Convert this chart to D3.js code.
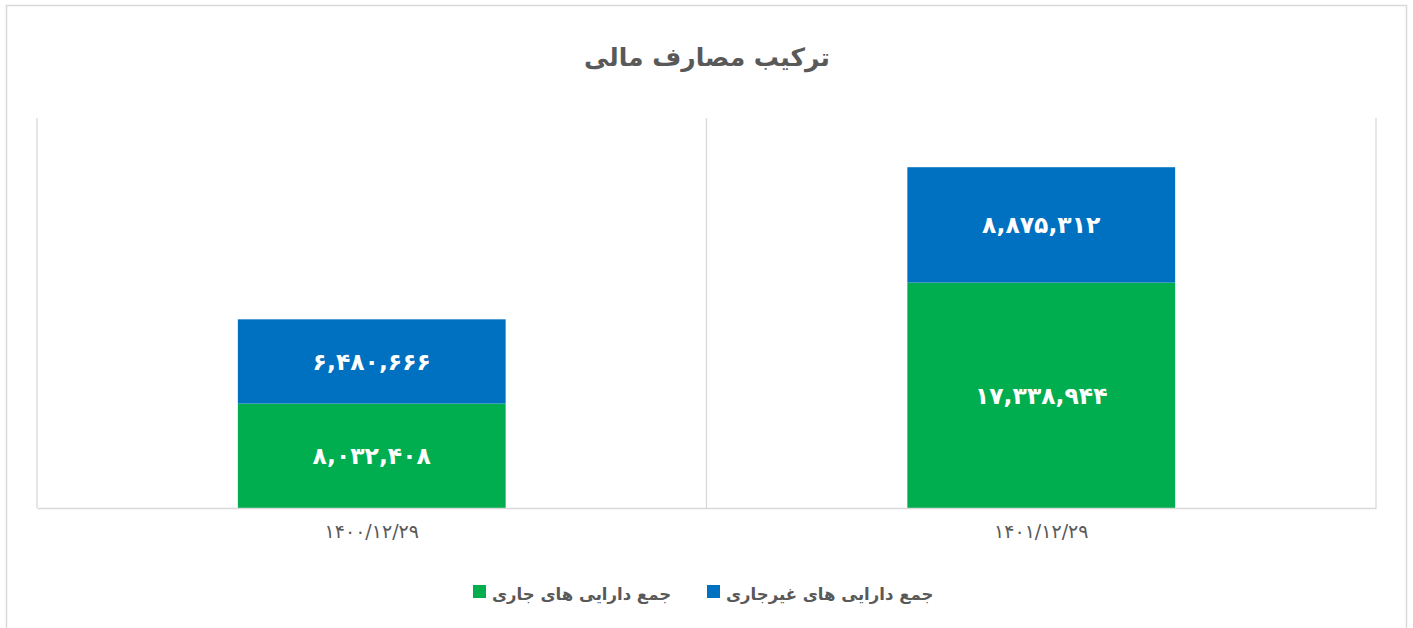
<!DOCTYPE html>
<html><head><meta charset="utf-8">
<script src="https://cdn.jsdelivr.net/npm/d3@7"></script>
<style>
html,body{margin:0;padding:0;background:#fff;}
svg{display:block;}
text{font-family:"DejaVu Sans",sans-serif;}
</style></head>
<body>
<svg id="c" width="1413" height="628"></svg>
<script>
const title = "ترکیب مصارف مالی";
const categories = ["۱۴۰۰/۱۲/۲۹", "۱۴۰۱/۱۲/۲۹"];
const seriesNames = ["جمع دارایی های جاری", "جمع دارایی های غیرجاری"];
const currentAssets = [8032408, 17338944];
const nonCurrentAssets = [6480666, 8875312];
const yMax = 30000000;
const colors = ["#00AD4F", "#0070C0"];

const svg = d3.select("#c");
const plot = {left: 37, right: 1376, top: 118, bottom: 508};

// outer border
svg.append("rect").attr("x", 6.5).attr("y", 5.5).attr("width", 1400).attr("height", 640)
  .attr("fill", "#fff").attr("stroke", "#d9d9d9").attr("stroke-width", 1.5);

const x = d3.scaleBand().domain(categories).range([plot.left, plot.right]).padding(0);
const y = d3.scaleLinear().domain([0, yMax]).range([plot.bottom, plot.top]);

const fa = s => s.replace(/[0-9]/g, d => "۰۱۲۳۴۵۶۷۸۹"[+d]);
const fmt = v => fa(d3.format(",")(v));

// vertical category gridlines
const bounds = categories.map(c => x(c)).concat([x(categories[categories.length-1]) + x.bandwidth()]);
svg.append("g").selectAll("line").data(bounds).join("line")
  .attr("x1", d => d).attr("x2", d => d)
  .attr("y1", plot.top).attr("y2", plot.bottom)
  .attr("stroke", "#d9d9d9").attr("stroke-width", 1.3);

// stack
const rows = categories.map((c, i) => ({cat: c, s0: currentAssets[i], s1: nonCurrentAssets[i]}));
const stack = d3.stack().keys(["s0", "s1"])(rows);
const barW = x.bandwidth() * 0.4;
const barOff = (x.bandwidth() - barW) / 2;

const g = svg.append("g");
stack.forEach((layer, li) => {
  g.append("g").selectAll("rect").data(layer).join("rect")
    .attr("x", d => x(d.data.cat) + barOff)
    .attr("width", barW)
    .attr("y", d => y(d[1]))
    .attr("height", d => y(d[0]) - y(d[1]))
    .attr("fill", colors[li]);
  g.append("g").selectAll("text").data(layer).join("text")
    .attr("x", d => x(d.data.cat) + x.bandwidth()/2)
    .attr("y", d => (y(d[0]) + y(d[1]))/2)
    .attr("dy", "0.35em")
    .attr("text-anchor", "middle")
    .attr("fill", "#fff").attr("font-weight", "bold").attr("font-size", 23.5)
    .text(d => fmt(d[1] - d[0]));
});

// baseline axis
const xAxis = d3.axisBottom(x).tickSize(0).tickPadding(17);
const ax = svg.append("g").attr("transform", `translate(0,${plot.bottom})`).call(xAxis);
ax.select(".domain").attr("stroke", "#d9d9d9").attr("stroke-width", 1.5);
ax.selectAll("text").attr("font-size", 19).attr("fill", "#595959")
  .attr("font-family", "DejaVu Sans, sans-serif");

// title
svg.append("text").attr("x", 707).attr("y", 57).attr("dy", "0.35em")
  .attr("text-anchor", "middle").attr("font-size", 25).attr("font-weight", "bold")
  .attr("fill", "#595959").attr("direction", "rtl").text(title);

// legend
const legendItems = [
  {name: seriesNames[0], color: colors[0], sx: 473, tx: 492},
  {name: seriesNames[1], color: colors[1], sx: 707, tx: 726}
];
const lg = svg.append("g");
legendItems.forEach(it => {
  lg.append("rect").attr("x", it.sx).attr("y", 585).attr("width", 13).attr("height", 13).attr("fill", it.color);
  lg.append("text").attr("x", it.tx).attr("y", 594).attr("dy", "0.35em")
    .attr("text-anchor", "start").attr("font-size", 16.5).attr("font-weight", "bold")
    .attr("fill", "#595959").attr("direction", "ltr").text(it.name);
});
</script>
</body></html>
